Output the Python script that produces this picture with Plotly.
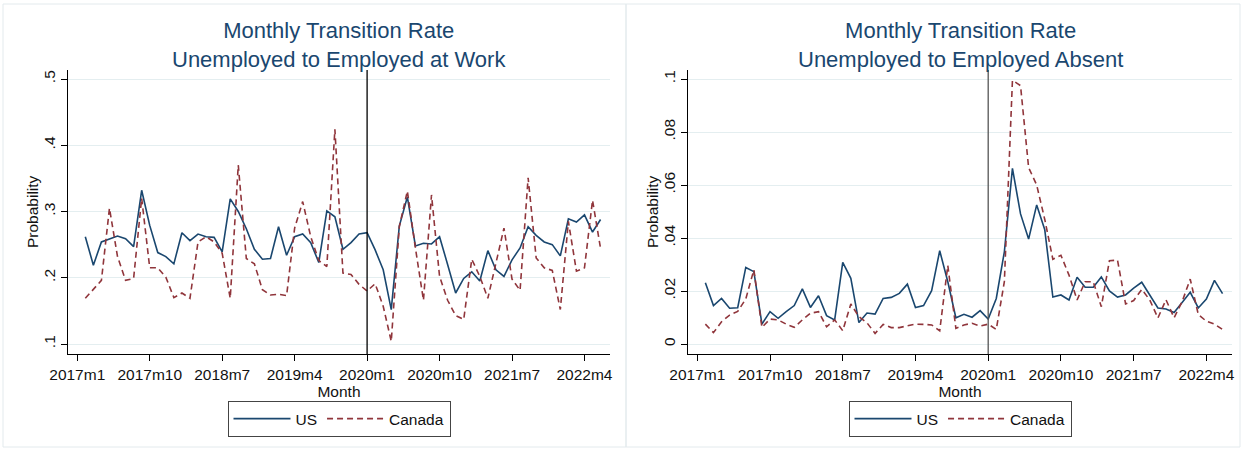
import plotly.graph_objects as go

# ---- data -------------------------------------------------------------
FIRST_YEAR, FIRST_MONTH, N_MONTHS = 2017, 2, 65
month_labels = [
    f"{FIRST_YEAR + (FIRST_MONTH - 1 + k) // 12}m{(FIRST_MONTH - 1 + k) % 12 + 1}"
    for k in range(N_MONTHS)
]

us_at_work = [
    0.262, 0.219, 0.254, 0.258, 0.263, 0.259, 0.247, 0.332, 0.279, 0.238,
    0.232, 0.221, 0.268, 0.256, 0.266, 0.262, 0.261, 0.239, 0.319, 0.300,
    0.274, 0.243, 0.228, 0.229, 0.277, 0.234, 0.262, 0.266, 0.253, 0.223,
    0.301, 0.292, 0.243, 0.253, 0.266, 0.268, 0.242, 0.212, 0.152, 0.278,
    0.322, 0.248, 0.252, 0.251, 0.262, 0.220, 0.177, 0.199, 0.209, 0.195,
    0.241, 0.212, 0.202, 0.227, 0.245, 0.277, 0.264, 0.254, 0.250, 0.233,
    0.289, 0.284, 0.295, 0.269, 0.288,
]
ca_at_work = [
    0.169, 0.182, 0.196, 0.305, 0.232, 0.196, 0.199, 0.320, 0.215, 0.215,
    0.201, 0.170, 0.177, 0.169, 0.254, 0.262, 0.254, 0.237, 0.169, 0.370,
    0.229, 0.221, 0.182, 0.174, 0.175, 0.173, 0.275, 0.315, 0.262, 0.226,
    0.217, 0.424, 0.207, 0.205, 0.190, 0.180, 0.191, 0.157, 0.104, 0.277,
    0.331, 0.245, 0.166, 0.325, 0.202, 0.166, 0.143, 0.137, 0.228, 0.202,
    0.169, 0.222, 0.275, 0.198, 0.181, 0.351, 0.230, 0.215, 0.211, 0.152,
    0.285, 0.210, 0.215, 0.317, 0.244,
]
us_absent = [
    0.0231, 0.0145, 0.0172, 0.0135, 0.0137, 0.0289, 0.0273, 0.0075, 0.0122, 0.0097,
    0.0122, 0.0145, 0.0208, 0.0138, 0.0182, 0.0107, 0.0091, 0.0308, 0.0248, 0.0081,
    0.0117, 0.0113, 0.0172, 0.0176, 0.0191, 0.0226, 0.0138, 0.0145, 0.0201, 0.0352,
    0.0235, 0.0099, 0.0112, 0.0101, 0.0126, 0.0094, 0.0172, 0.0348, 0.0663, 0.0491,
    0.0396, 0.0525, 0.0431, 0.0177, 0.0185, 0.0166, 0.0252, 0.0214, 0.0214, 0.0253,
    0.0200, 0.0177, 0.0185, 0.0211, 0.0233, 0.0185, 0.0136, 0.0132, 0.0119, 0.0157,
    0.0195, 0.0136, 0.0170, 0.0240, 0.0190,
]
ca_absent = [
    0.0075, 0.0043, 0.0084, 0.0109, 0.0123, 0.0170, 0.0280, 0.0063, 0.0094, 0.0091,
    0.0075, 0.0063, 0.0091, 0.0116, 0.0122, 0.0065, 0.0091, 0.0050, 0.0151, 0.0103,
    0.0080, 0.0040, 0.0074, 0.0062, 0.0062, 0.0068, 0.0075, 0.0074, 0.0072, 0.0050,
    0.0296, 0.0059, 0.0072, 0.0078, 0.0068, 0.0075, 0.0055, 0.0235, 0.0995, 0.0975,
    0.0666, 0.0600, 0.0470, 0.0320, 0.0335, 0.0260, 0.0166, 0.0235, 0.0235, 0.0141,
    0.0314, 0.0317, 0.0151, 0.0164, 0.0206, 0.0166, 0.0098, 0.0167, 0.0099, 0.0160,
    0.0245, 0.0111, 0.0086, 0.0075, 0.0055,
]

x_tick_labels = ["2017m1", "2017m10", "2018m7", "2019m4",
                 "2020m1", "2020m10", "2021m7", "2022m4"]
y_ticks_work = [0.1, 0.2, 0.3, 0.4, 0.5]
y_ticks_absent = [0.0, 0.02, 0.04, 0.06, 0.08, 0.1]
break_month = "2020m1"

panel_titles = [
    "Monthly Transition Rate<br>Unemployed to Employed at Work",
    "Monthly Transition Rate<br>Unemployed to Employed Absent",
]


# ---- helpers ----------------------------------------------------------
def month_index(label):
    year, month = label.split("m")
    return (int(year) - 2017) * 12 + int(month) - 1


def stata_label(v):
    s = f"{v:g}"
    return s[1:] if s.startswith("0.") else s


W, H = 1243, 453
FONT = "Liberation Sans, Arial, sans-serif"
NAVY = "#1a476f"
MAROON = "#90353b"
GRID = "#e4eef0"
TXT = "#111"


def px_x(p):
    return p / W


def px_y(p):
    return (H - p) / H


x_vals = [month_index(m) for m in month_labels]
x_tick_vals = [month_index(m) for m in x_tick_labels]
x_range = [-1.15, 66.17]

fig = go.Figure()

panels = [
    dict(xa="x", ya="y", legend="legend", us=us_at_work, ca=ca_at_work),
    dict(xa="x2", ya="y2", legend="legend2", us=us_absent, ca=ca_absent),
]
for p in panels:
    fig.add_trace(go.Scatter(
        x=x_vals, y=p["us"], name="US", mode="lines",
        line=dict(color=NAVY, width=1.6),
        xaxis=p["xa"], yaxis=p["ya"], legend=p["legend"],
    ))
    fig.add_trace(go.Scatter(
        x=x_vals, y=p["ca"], name="Canada", mode="lines",
        line=dict(color=MAROON, width=1.6, dash="6px,4px"),
        xaxis=p["xa"], yaxis=p["ya"], legend=p["legend"],
    ))

common_x = dict(
    range=x_range, tickvals=x_tick_vals, ticktext=x_tick_labels,
    showgrid=False, zeroline=False, showline=True, linecolor="black",
    linewidth=1.2, ticks="outside", ticklen=6, tickcolor="black",
    tickfont=dict(family=FONT, size=15.5, color=TXT), automargin=False,
    title=dict(text="Month", font=dict(family=FONT, size=15.5, color=TXT),
               standoff=2),
)
common_y = dict(
    showgrid=True, gridcolor=GRID, gridwidth=1, zeroline=False,
    showline=True, linecolor="black", linewidth=1.2,
    ticks="outside", ticklen=6, tickcolor="black", tickangle=-90,
    tickfont=dict(family=FONT, size=15.5, color=TXT), automargin=False,
)

y_dom = [px_y(354), px_y(70)]
fig.update_layout(
    width=W, height=H,
    margin=dict(l=0, r=0, t=0, b=0, autoexpand=False),
    paper_bgcolor="white", plot_bgcolor="white",
    xaxis=dict(domain=[px_x(68), px_x(610)], anchor="y", **common_x),
    yaxis=dict(domain=y_dom, anchor="x", range=[0.0849, 0.5136],
               tickvals=y_ticks_work,
               ticktext=[stata_label(v) for v in y_ticks_work], **common_y),
    xaxis2=dict(domain=[px_x(688), px_x(1232)], anchor="y2", **common_x),
    yaxis2=dict(domain=y_dom, anchor="x2", range=[-0.00377, 0.1034],
                tickvals=y_ticks_absent,
                ticktext=[stata_label(v) for v in y_ticks_absent], **common_y),
)

legend_style = dict(
    orientation="h", xanchor="center", yanchor="middle",
    bgcolor="white", bordercolor="#444", borderwidth=1,
    font=dict(family=FONT, size=15.5, color=TXT),
    itemwidth=57,
)
fig.update_layout(
    legend=dict(x=px_x(339), y=px_y(419), **legend_style),
    legend2=dict(x=px_x(960), y=px_y(419), **legend_style),
)

# break line at the start of 2020
for xref, color in (("x", "black"), ("x2", "#555")):
    fig.add_shape(type="line", xref=xref, yref=f"y{xref[1:]} domain",
                  x0=month_index(break_month), x1=month_index(break_month),
                  y0=0, y1=1, line=dict(color=color, width=1.3), layer="above")

# faint frames around each graph
for x0, x1 in ((3, 626), (626, 1240)):
    fig.add_shape(type="rect", xref="paper", yref="paper",
                  x0=px_x(x0), x1=px_x(x1), y0=px_y(447), y1=px_y(4),
                  line=dict(color="#e3eaed", width=1), layer="below")

# panel titles and y-axis titles
for cx, text, ax_x in ((339, panel_titles[0], 33), (960, panel_titles[1], 653)):
    fig.add_annotation(x=px_x(cx), y=px_y(45), xref="paper", yref="paper",
                       text=text, showarrow=False, xanchor="center",
                       yanchor="middle",
                       font=dict(family=FONT, size=22, color=NAVY))
    fig.add_annotation(x=px_x(ax_x), y=px_y(212), xref="paper", yref="paper",
                       text="Probability", textangle=-90, showarrow=False,
                       xanchor="center", yanchor="middle",
                       font=dict(family=FONT, size=15.5, color=TXT))

fig.write_html("out.html")
